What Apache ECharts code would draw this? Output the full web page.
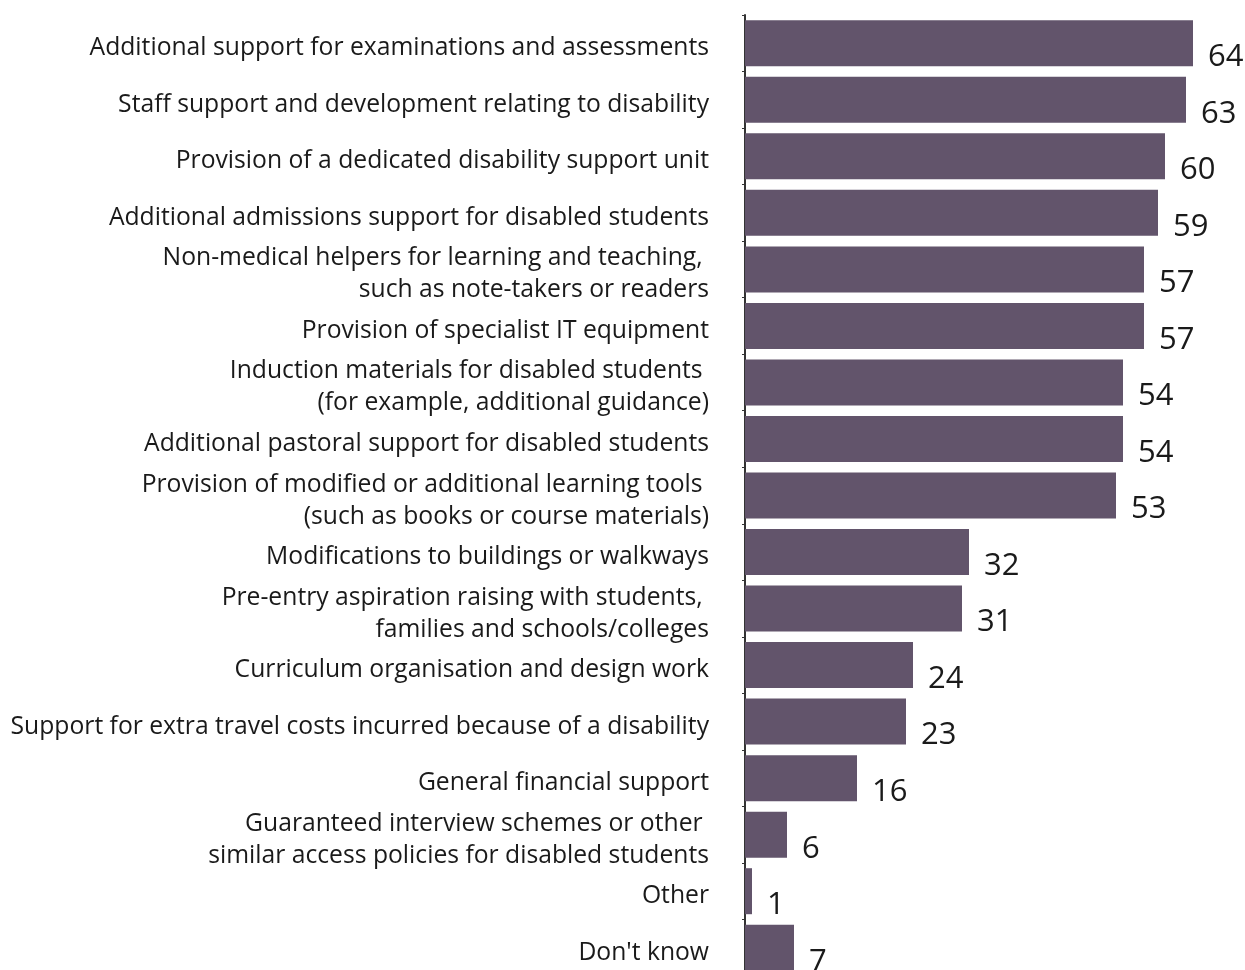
<!DOCTYPE html>
<html>
<head>
<meta charset="utf-8">
<script src="https://cdn.jsdelivr.net/npm/echarts@6/dist/echarts.min.js"></script>
<style>
html,body{margin:0;padding:0;background:#fff;overflow:hidden;width:1245px;height:970px;}
#chart{width:1245px;height:1000px;}
</style>
</head>
<body>
<div id="chart"></div>
<script>
const categories = [
  "Additional support for examinations and assessments",
  "Staff support and development relating to disability",
  "Provision of a dedicated disability support unit",
  "Additional admissions support for disabled students",
  "Non-medical helpers for learning and teaching, \nsuch as note-takers or readers",
  "Provision of specialist IT equipment",
  "Induction materials for disabled students \n(for example, additional guidance)",
  "Additional pastoral support for disabled students",
  "Provision of modified or additional learning tools \n(such as books or course materials)",
  "Modifications to buildings or walkways",
  "Pre-entry aspiration raising with students, \nfamilies and schools/colleges",
  "Curriculum organisation and design work",
  "Support for extra travel costs incurred because of a disability",
  "General financial support",
  "Guaranteed interview schemes or other \nsimilar access policies for disabled students",
  "Other",
  "Don't know"
];
const values = [64, 63, 60, 59, 57, 57, 54, 54, 53, 32, 31, 24, 23, 16, 6, 1, 7];

const chart = echarts.init(document.getElementById('chart'), null, {renderer: 'canvas'});
chart.setOption({
  animation: false,
  backgroundColor: '#ffffff',
  grid: {left: 745, top: 15, width: 490, height: 961, containLabel: false},
  xAxis: {
    type: 'value', min: 0, max: 70,
    show: false
  },
  yAxis: {
    type: 'category',
    data: categories,
    inverse: true,
    axisLine: {show: true, lineStyle: {color: '#333333', width: 2}},
    axisTick: {show: true, length: 3, lineStyle: {color: '#333333', width: 1}},
    axisLabel: {
      margin: 36,
      color: '#1a1a1a',
      fontFamily: 'Open Sans',
      fontSize: 24.7,
      lineHeight: 32,
      align: 'right',
      interval: 0,
      formatter: function (v) {
        return v.split('\n').map(function (s) {
          return '{a|' + s + '}';
        }).join('\n');
      },
      rich: {
        a: {fontFamily: 'Open Sans', fontSize: 24.7, color: '#1a1a1a', lineHeight: 32, padding: [10, 0, 0, 0]}
      }
    }
  },
  series: [{
    type: 'bar',
    data: values,
    barWidth: 46,
    itemStyle: {color: '#62546b'},
    label: {
      show: true,
      position: 'right',
      distance: 15,
      offset: [0, 14],
      color: '#1a1a1a',
      fontFamily: 'Open Sans',
      fontSize: 31
    }
  }]
});
</script>
</body>
</html>
